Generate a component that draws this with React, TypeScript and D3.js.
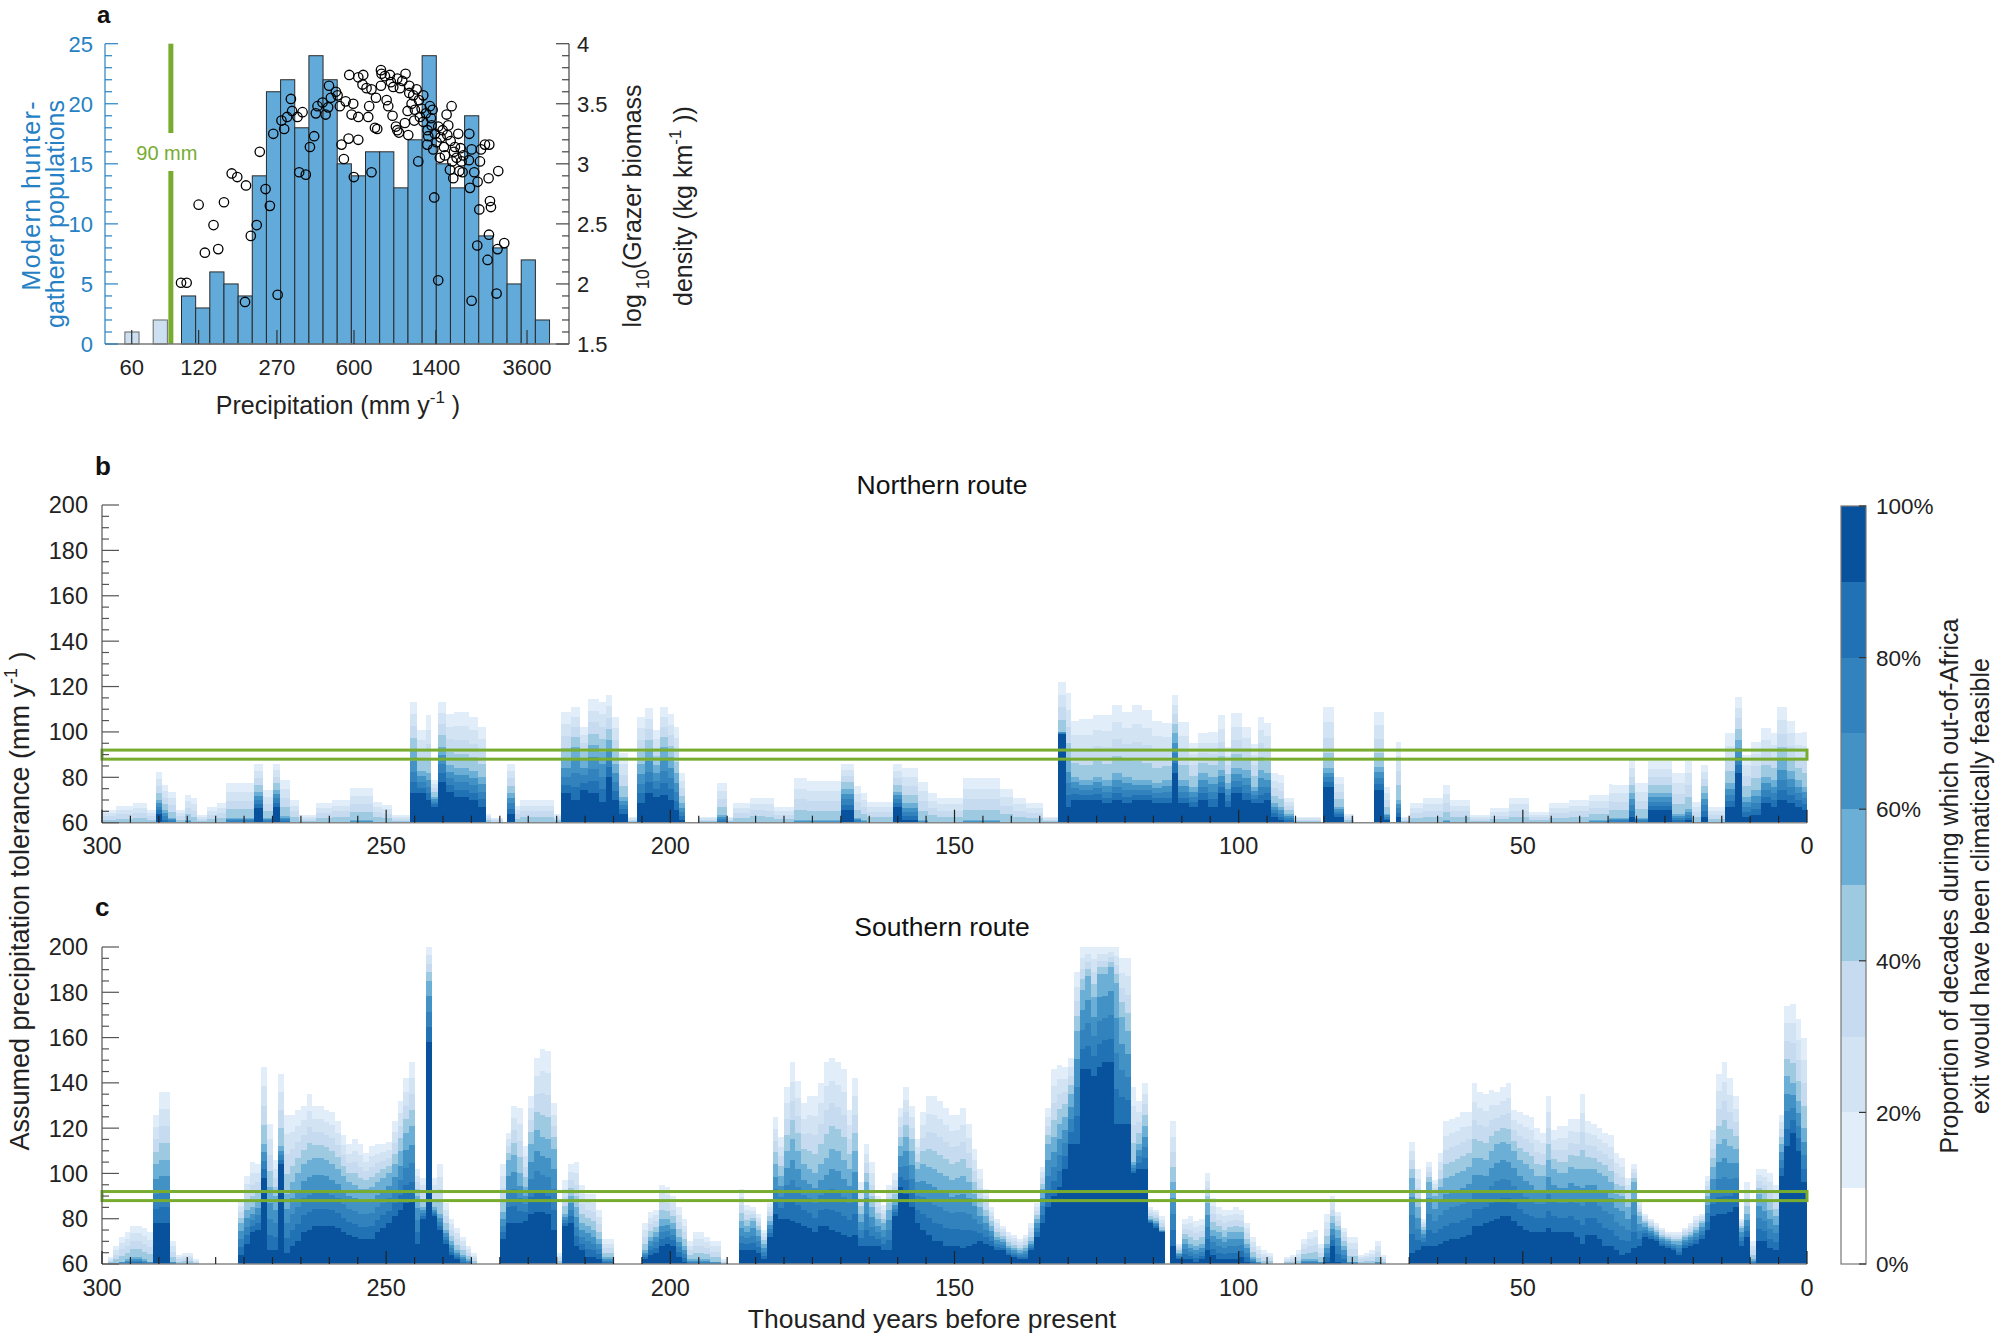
import React from 'react';
import * as d3 from 'd3';

const FONT = '"Liberation Sans", Arial, Helvetica, sans-serif';
const BLUE_TXT = '#2681c4';
const GREEN = '#77ac30';

// ---------- panel a: histogram + grazer biomass ----------
const histCounts = [1, 0, 2, 0, 4, 3, 6, 5, 4, 14, 21, 22, 18, 24, 22, 15, 14, 16, 16, 13, 17, 24, 15, 13, 19, 9, 8, 5, 7, 2];
const binStart = 55.9; // mm, lower edge of first log bin
const binRatio = 1.1579; // log-spaced bins
const thresholdMm = 90;

// [precipitation mm/yr, log10 grazer biomass]
const grazer: [number, number][] = [
  [100, 2.01], [106, 2.01], [120, 2.66], [128, 2.26], [140, 2.49], [147, 2.29], [156, 2.68], [169, 2.92],
  [179, 2.89], [196, 2.82], [194, 1.85], [206, 2.4], [219, 2.49], [226, 3.1], [240, 2.79], [251, 2.65],
  [260, 3.25], [272, 1.91], [283, 3.36], [291, 3.29], [300, 3.39], [312, 3.54], [316, 3.44], [334, 3.39],
  [340, 2.93], [352, 3.43], [364, 2.91], [380, 3.14], [397, 3.23], [404, 3.42], [411, 3.48], [433, 3.51],
  [447, 3.41], [459, 3.47], [463, 3.65], [472, 3.55], [497, 3.6], [506, 3.57], [518, 3.48], [527, 3.16],
  [540, 3.04], [550, 3.52], [567, 3.21], [571, 3.74], [585, 3.41], [595, 3.5], [599, 2.89], [627, 3.72],
  [627, 3.39], [627, 3.2], [660, 3.74], [655, 3.66], [683, 3.63], [702, 3.48], [695, 3.39], [719, 2.93],
  [719, 3.62], [745, 3.3], [763, 3.29], [753, 3.55], [793, 3.78], [793, 3.65], [798, 3.75], [826, 3.73],
  [841, 3.53], [855, 3.48], [870, 3.74], [879, 3.68], [894, 3.4], [901, 3.64], [926, 3.31], [939, 3.28],
  [955, 3.26], [939, 3.71], [965, 3.63], [989, 3.69], [1016, 3.34], [1023, 3.75], [1045, 3.44], [1052, 3.24],
  [1063, 3.65], [1063, 3.59], [1089, 3.5], [1108, 3.57], [1119, 3.36], [1127, 3.45], [1147, 3.62], [1167, 3.02],
  [1175, 3.53], [1187, 3.39], [1208, 3.46], [1229, 3.57], [1229, 3.35], [1263, 3.42], [1281, 3.16], [1285, 3.28],
  [1294, 3.23], [1317, 3.48], [1330, 3.38], [1340, 3.32], [1354, 3.45], [1363, 3.12], [1377, 2.72], [1387, 3.25],
  [1411, 3.18], [1435, 3.31], [1435, 2.03], [1460, 3.05], [1471, 3.22], [1502, 3.28], [1522, 3.14], [1538, 3.07],
  [1565, 3.41], [1576, 3.24], [1592, 3.32], [1620, 2.95], [1632, 3.19], [1648, 3.48], [1660, 3.02], [1677, 2.88],
  [1689, 3.1], [1706, 3.14], [1736, 3.05], [1766, 3.25], [1785, 2.94], [1809, 3.13], [1828, 3.02], [1847, 2.93],
  [1860, 3.07], [1972, 3.03], [1979, 3.25], [1993, 2.8], [2028, 3.12], [2028, 1.86], [2084, 2.93], [2158, 2.85],
  [2196, 2.62], [2211, 3.02], [2234, 3.12], [2328, 3.16], [2418, 2.88], [2435, 3.16], [2427, 2.41], [2452, 2.69],
  [2477, 2.64], [2150, 2.32], [2393, 2.2], [2626, 1.92], [2653, 2.29], [2672, 2.94], [2843, 2.34],
];

const xTicksA = [60, 120, 270, 600, 1400, 3600];
const yTicksLeftA = [0, 5, 10, 15, 20, 25];
const yTicksRightA = [1.5, 2, 2.5, 3, 3.5, 4];

// ---------- panels b, c ----------
const levelColors = ['#ffffff', '#e1edf8', '#d2e3f3', '#c6dbef', '#9ecae1', '#6baed6', '#4292c6', '#3182bd', '#2171b5', '#08519c'];
const cbTicks = [0, 20, 40, 60, 80, 100];
const xTicksBC = [300, 250, 200, 150, 100, 50, 0];
const yTicksBC = [60, 80, 100, 120, 140, 160, 180, 200];

// northern route: [from ka, to ka, top of >=10%, top of >=50%, top of >=90%] (mm/yr)
const northSegs: number[][] = [
  [300, 297.5, 65.6, 60, 60], [297.5, 294.5, 67.3, 60, 60], [294.5, 292, 68.5, 60, 60], [292, 290.5, 65.6, 60, 60],
  [290.5, 289.4, 82.5, 70, 64], [289.4, 288.3, 76.6, 65.6, 60], [288.3, 287, 73.7, 62, 60], [287, 285.4, 65.6, 60, 60],
  [285.4, 284.3, 72.2, 61, 60], [284.3, 283.2, 70.7, 60, 60], [283.2, 281.5, 63.4, 60, 60], [281.5, 279.8, 67, 60, 60],
  [279.8, 278.2, 68.5, 60, 60], [278.2, 273.3, 77.3, 62, 60], [273.3, 271.7, 86, 73.7, 66.3], [271.7, 270, 74.4, 62, 60],
  [270, 268.6, 86, 74.4, 67], [268.6, 266.9, 78.8, 63, 60], [266.9, 265.3, 70, 60, 60], [265.3, 262.4, 63.4, 60, 60],
  [262.4, 259.6, 68.5, 60, 60], [259.6, 256.3, 70, 60, 60], [256.3, 252.4, 75.4, 61, 60], [252.4, 250.7, 69.3, 60, 60],
  [250.7, 249, 67.8, 60, 60], [249, 245.8, 63.4, 60, 60],
  [245.8, 244.5, 113.3, 92, 73], [244.5, 243, 100.8, 83, 73], [243, 242.1, 107.5, 81.7, 70], [242.1, 240.8, 78.8, 71.5, 67],
  [240.8, 239.4, 113.3, 93.5, 78], [239.4, 238.1, 108, 85.4, 73.7], [238.1, 235.5, 109, 84, 71.5], [235.5, 233.8, 106.7, 83, 70],
  [233.8, 232.5, 102.3, 80.3, 67], [232.5, 231.6, 64, 60, 60], [231.6, 229.5, 62, 60, 60],
  [228.8, 227.3, 86, 73, 64], [227.3, 226.5, 67.3, 60, 60], [226.5, 220.4, 70, 60, 60], [220.4, 219.2, 64, 60, 60],
  [219.2, 217.5, 109, 87.6, 73], [217.5, 215.9, 111, 93.5, 70], [215.9, 214.4, 102.3, 87.6, 74.4], [214.4, 212.5, 114.4, 94.2, 73],
  [212.5, 211.4, 113.3, 91.3, 69.3], [211.4, 210.3, 116.3, 96.4, 80.3], [210.3, 209.1, 106.7, 86, 70], [209.1, 207.5, 90.6, 71.5, 64],
  [207.5, 205.8, 62.6, 60, 60],
  [205.8, 204.4, 106.7, 86, 68.5], [204.4, 203, 110.4, 92, 73], [203, 201.9, 100.8, 85.4, 71.5], [201.9, 200.4, 111, 93.5, 72.2],
  [200.4, 199.3, 108, 89, 70], [199.3, 198.4, 102.3, 81.7, 65.6], [198.4, 197.4, 81.7, 68.5, 61],
  [195.2, 191.8, 62.6, 60, 60], [191.8, 190.1, 77.3, 63.4, 60], [190.1, 189, 62.6, 60, 60], [189, 186, 68.5, 60, 60],
  [186, 183.3, 71, 60, 60], [183.3, 181.7, 70.7, 60, 60], [181.7, 178.3, 67, 60, 60], [178.3, 176, 79.5, 61, 60],
  [176, 169.9, 78.5, 61, 60], [169.9, 167.6, 86, 75, 65.6], [167.6, 166.5, 76, 62, 60], [166.5, 165.4, 73, 61, 60],
  [165.4, 160.9, 69.3, 60, 60], [160.9, 159.2, 86, 73.7, 67], [159.2, 156.4, 84, 68.5, 61], [156.4, 154.7, 78, 61, 60],
  [154.7, 153, 73, 60, 60], [153, 148.5, 70.7, 60, 60], [148.5, 142, 79.5, 61, 60], [142, 139.7, 75, 60, 60],
  [139.7, 137.4, 70.7, 60, 60], [137.4, 134.5, 68.5, 60, 60], [134.5, 131.8, 62.6, 60, 60],
  [131.8, 130.4, 121.8, 100, 99], [130.4, 129.5, 117, 87.6, 67], [129.5, 128.1, 105, 80.3, 70], [128.1, 125.7, 105.5, 78.8, 70],
  [125.7, 124, 107.5, 80.3, 70], [124, 122.2, 107.5, 78.8, 68.5], [122.2, 120.5, 111.9, 81.7, 70], [120.5, 118.8, 109, 80.3, 68.5],
  [118.8, 117, 111.9, 78.8, 70], [117, 115.3, 109.6, 78.8, 70], [115.3, 113.5, 105, 77.3, 68.5], [113.5, 111.8, 103.8, 78.8, 68.5],
  [111.8, 110.6, 116.3, 99.4, 81.7], [110.6, 108.8, 104.5, 78.8, 68.5], [108.8, 107.1, 95, 75.9, 67], [107.1, 105.4, 99.4, 81.7, 70],
  [105.4, 103.6, 100, 80.3, 67], [103.6, 102.4, 107.5, 83.2, 73], [102.4, 101.3, 93.5, 77.3, 67], [101.3, 99.5, 108.5, 84, 73],
  [99.5, 97.8, 102.3, 83.2, 70], [97.8, 96.6, 94.7, 75.9, 68.5], [96.6, 95.5, 106.7, 83.2, 68.5], [95.5, 94.3, 103.8, 81.7, 70],
  [94.3, 93.1, 81.7, 68.5, 62.6], [93.1, 92, 81, 67, 61], [92, 90.2, 70.7, 64, 60], [90.2, 85.5, 62.6, 60, 60],
  [85.2, 83.2, 111, 84, 75.9], [83.2, 81.5, 80.3, 67, 62.6], [81.5, 79.7, 64, 60, 60],
  [76.2, 74.5, 109, 84.7, 74.4], [74.5, 73.3, 75.9, 64, 61], [72.4, 71.5, 95.7, 70, 62.6], [71.5, 69.8, 62.6, 60, 60],
  [69.8, 67.5, 68.5, 60, 60], [67.5, 64, 70.7, 60, 60], [64, 62.8, 76.6, 61, 60], [62.8, 59.3, 70, 60, 60],
  [59.3, 55.8, 63.4, 60, 60], [55.8, 52.4, 66.3, 60, 60], [52.4, 48.9, 70.7, 60, 60], [48.9, 45.4, 64.8, 60, 60],
  [45.4, 41.9, 68.5, 60, 60], [41.9, 38.4, 70, 60, 60], [38.4, 34.9, 72.2, 61, 60], [34.9, 34.3, 77, 62, 60],
  [34.3, 31.4, 76.6, 62, 60], [31.4, 30.2, 87.6, 73, 62.6], [30.2, 27.9, 77.3, 62, 60], [27.9, 23.8, 87, 73, 65.6],
  [23.8, 21.5, 81.7, 64, 60], [21.5, 20.3, 87, 66, 61], [20.3, 18.6, 69.3, 60, 60], [18.6, 17.4, 85.4, 73, 62.6],
  [17.4, 14.5, 67, 60, 60], [14.5, 12.7, 99.4, 77.3, 67], [12.7, 11.4, 115.5, 96.4, 81.7], [11.4, 9.8, 89.8, 71.5, 62.6],
  [9.8, 8.1, 95.7, 74.4, 63.4], [8.1, 6.4, 101.6, 80.3, 68.5], [6.4, 5.2, 99.4, 78.8, 67], [5.2, 3.5, 111, 87.6, 70],
  [3.5, 2.1, 105, 83, 68.5], [2.1, 0.9, 99.4, 78.8, 67], [0.9, 0, 100, 75.9, 65.6],
];

// southern route: 1-kyr columns [start ka, top >=10%, top >=50%, top >=90%]
const southCols: number[][] = [
  [299, 63, 60, 60], [298, 68, 60, 60], [297, 72, 61, 60], [296, 74, 62, 60], [295, 77, 63, 60], [294, 77, 63, 60],
  [293, 76, 62, 60], [292, 74, 61, 60], [291, 126, 104, 78], [290, 136, 106, 78], [289, 136, 106, 78], [288, 70, 61, 60],
  [287, 64, 60, 60], [286, 65, 60, 60], [285, 65, 60, 60], [284, 62, 60, 60],
  [276, 88, 78, 64], [275, 99, 84, 69], [274, 105, 85, 74], [273, 104, 88, 75], [272, 147, 113, 98], [271, 122, 94, 66],
  [270, 106, 90, 66], [269, 144, 112, 104], [268, 126, 91, 65], [267, 126, 96, 68], [266, 128, 100, 70], [265, 130, 104, 74],
  [264, 135, 106, 75], [263, 130, 107, 77], [262, 130, 107, 77], [261, 128, 106, 77], [260, 127, 104, 77], [259, 123, 102, 76],
  [258, 117, 99, 74], [257, 113, 96, 73], [256, 115, 95, 72], [255, 113, 93, 71], [254, 109, 93, 71], [253, 112, 94, 71],
  [252, 113, 96, 74], [251, 113, 98, 76], [250, 114, 100, 78], [249, 123, 104, 81], [248, 132, 110, 84], [247, 142, 118, 87],
  [246, 149, 121, 88], [245, 102, 90, 69], [244, 98, 85, 80], [243, 200, 185, 158], [242, 98, 85, 81], [241, 104, 82, 75],
  [240, 87, 75, 69], [239, 80, 70, 64], [238, 76, 66, 62], [237, 72, 64, 60], [236, 68, 62, 60], [235, 65, 60, 60],
  [230, 104, 83, 71], [229, 118, 106, 78], [228, 130, 108, 78], [227, 129, 100, 78], [226, 112, 94, 79], [225, 134, 113, 82],
  [224, 151, 119, 83], [223, 155, 116, 83], [222, 154, 115, 82], [221, 131, 111, 75], [220, 65, 60, 60], [219, 97, 82, 77],
  [218, 104, 90, 78], [217, 105, 85, 68], [216, 95, 78, 66], [215, 91, 77, 63], [214, 91, 75, 63], [213, 84, 71, 62],
  [212, 71, 63, 60], [211, 71, 63, 60],
  [205, 78, 66, 62], [204, 83, 72, 64], [203, 84, 74, 65], [202, 95, 80, 68], [201, 94, 80, 69], [200, 90, 78, 68],
  [199, 85, 72, 63], [198, 80, 68, 61], [197, 70, 62, 60], [196, 74, 62, 60], [195, 74, 62, 60], [194, 72, 62, 60],
  [193, 70, 61, 60], [192, 70, 61, 60], [191, 62, 60, 60],
  [188, 93, 79, 66], [187, 86, 77, 66], [186, 85, 79, 66], [185, 82, 75, 65], [184, 75, 69, 62], [183, 87, 79, 72],
  [182, 125, 104, 82], [181, 116, 99, 80], [180, 138, 110, 80], [179, 149, 115, 79], [178, 141, 110, 78], [177, 131, 104, 77],
  [176, 134, 102, 76], [175, 134, 100, 74], [174, 140, 104, 77], [173, 149, 107, 77], [172, 151, 111, 75], [171, 149, 110, 74],
  [170, 146, 106, 73], [169, 128, 102, 72], [168, 142, 110, 73], [167, 96, 82, 68], [166, 113, 96, 68], [165, 105, 85, 68],
  [164, 90, 80, 68], [163, 86, 78, 66], [162, 95, 84, 66], [161, 100, 88, 81], [160, 129, 112, 94], [159, 138, 116, 91],
  [158, 130, 110, 85], [157, 115, 102, 78], [156, 127, 104, 75], [155, 134, 103, 73], [154, 134, 102, 70], [153, 132, 100, 70],
  [152, 129, 99, 68], [151, 126, 97, 68], [150, 126, 98, 68], [149, 129, 99, 67], [148, 122, 96, 68], [147, 111, 91, 69],
  [146, 102, 85, 70], [145, 93, 81, 69], [144, 85, 77, 68], [143, 80, 72, 66], [142, 77, 71, 66], [141, 74, 68, 64],
  [140, 73, 67, 63], [139, 71, 66, 62], [138, 73, 67, 62], [137, 78, 70, 66], [136, 87, 80, 72], [135, 103, 93, 78],
  [134, 129, 113, 85], [133, 146, 116, 90], [132, 148, 122, 94], [131, 147, 125, 102], [130, 151, 135, 113], [129, 189, 163, 113],
  [128, 200, 181, 146], [127, 200, 187, 146], [126, 200, 178, 143], [125, 200, 188, 147], [124, 200, 188, 149], [123, 200, 191, 149],
  [122, 200, 184, 122], [121, 195, 169, 122], [120, 195, 163, 122], [119, 138, 105, 100], [118, 132, 113, 102], [117, 140, 121, 102],
  [116, 85, 80, 78], [115, 84, 79, 76], [114, 81, 75, 74],
  [112, 123, 96, 68], [111, 69, 65, 62], [110, 80, 71, 62], [109, 81, 69, 62], [108, 79, 68, 61], [107, 80, 69, 62],
  [106, 100, 87, 66], [105, 89, 75, 64], [104, 85, 74, 62], [103, 84, 72, 62], [102, 84, 74, 62], [101, 85, 74, 62],
  [100, 84, 74, 63], [99, 78, 69, 61], [98, 72, 63, 60], [97, 68, 61, 60], [96, 66, 60, 60], [95, 65, 60, 60],
  [92, 63, 60, 60], [91, 64, 60, 60], [90, 66, 60, 60], [89, 71, 62, 60], [88, 74, 62, 60], [87, 75, 62, 60],
  [86, 69, 61, 60], [85, 82, 69, 61], [84, 90, 78, 68], [83, 83, 75, 61], [82, 76, 68, 60], [81, 72, 61, 60],
  [80, 72, 61, 60], [79, 64, 60, 60], [78, 65, 60, 60], [77, 66, 60, 60], [76, 70, 61, 60], [75, 64, 60, 60],
  [70, 114, 98, 65], [69, 102, 85, 66], [68, 80, 75, 68], [67, 105, 96, 68], [66, 97, 90, 68], [65, 109, 94, 69],
  [64, 123, 98, 70], [63, 124, 99, 71], [62, 125, 100, 71], [61, 127, 101, 72], [60, 127, 103, 73], [59, 140, 107, 77],
  [58, 136, 107, 77], [57, 135, 106, 78], [56, 137, 110, 79], [55, 136, 113, 80], [54, 138, 114, 81], [53, 140, 113, 81],
  [52, 128, 110, 79], [51, 127, 106, 77], [50, 126, 104, 75], [49, 125, 102, 74], [48, 120, 99, 74], [47, 118, 99, 74],
  [46, 134, 106, 76], [45, 119, 102, 74], [44, 121, 100, 74], [43, 121, 100, 74], [42, 124, 103, 74], [41, 124, 102, 72],
  [40, 135, 102, 69], [39, 123, 102, 73], [38, 122, 102, 73], [37, 120, 100, 71], [36, 118, 99, 68], [35, 117, 96, 68],
  [34, 109, 91, 66], [33, 107, 90, 64], [32, 98, 85, 65], [31, 104, 96, 67], [30, 88, 81, 68], [29, 82, 78, 72],
  [28, 80, 76, 71], [27, 78, 74, 70], [26, 76, 72, 68], [25, 74, 71, 67], [24, 74, 70, 66], [23, 74, 70, 64],
  [22, 76, 72, 67], [21, 78, 73, 68], [20, 81, 75, 69], [19, 82, 78, 71], [18, 99, 90, 75], [17, 119, 103, 81],
  [16, 144, 113, 82], [15, 149, 115, 82], [14, 142, 112, 83], [13, 134, 111, 85], [12, 80, 76, 68], [11, 96, 82, 72],
  [10, 70, 62, 60], [9, 102, 91, 70], [8, 102, 88, 70], [7, 100, 84, 67], [6, 95, 81, 66], [5, 126, 113, 99],
  [4, 174, 143, 112], [3, 175, 140, 118], [2, 168, 132, 110], [1, 160, 120, 96],
];

const southSegs = southCols.map(([k, a, b, c]) => [k, k - 1, a, b, c]);

// ---------- layout ----------
const XL = 102;
const XR = 1807;

function levelTops(t10: number, t50: number, t90: number) {
  const h: number[] = [];
  for (let k = 1; k <= 9; k++) {
    h[k] = k <= 5 ? t10 + ((t50 - t10) * (k - 1)) / 4 : t50 + ((t90 - t50) * (k - 5)) / 4;
  }
  return h;
}

function HeatPanel({ segs, top, bottom, title, titleY, letter, letterY, tickLabelY }: any) {
  const x = d3.scaleLinear().domain([300, 0]).range([XL, XR]);
  const y = d3.scaleLinear().domain([60, 200]).range([bottom, top]).clamp(true);
  const cells: React.ReactNode[] = [];
  segs.forEach((s: number[], i: number) => {
    const [a, b, t10, t50, t90] = s;
    const h = levelTops(t10, t50, t90);
    for (let k = 1; k <= 9; k++) {
      const upper = h[k];
      const lower = k < 9 ? h[k + 1] : 60;
      if (upper - lower <= 0.01) continue;
      cells.push(
        <rect key={`${i}-${k}`} x={x(a)} width={x(b) - x(a)} y={y(upper)} height={y(lower) - y(upper)} fill={levelColors[k]} />
      );
    }
  });
  const minorX = d3.range(0, 301, 5);
  const minorY = d3.range(60, 201, 5);
  return (
    <g>
      <g shapeRendering="crispEdges">{cells}</g>
      {/* tolerance band */}
      <rect x={XL} width={XR - XL} y={y(92)} height={y(88) - y(92)} fill="none" stroke={GREEN} strokeWidth={3} />
      {/* axes */}
      <line x1={XL} x2={XL} y1={top} y2={bottom} stroke="#555" strokeWidth={1.2} />
      <line x1={XL} x2={XR} y1={bottom} y2={bottom} stroke="#888" strokeWidth={1.5} />
      {minorY.map((v) => (
        <line key={'yt' + v} x1={XL} x2={XL + (v % 20 === 0 ? 17 : 7)} y1={y(v)} y2={y(v)} stroke="#555" strokeWidth={1.2} />
      ))}
      {minorX.map((v) => (
        <line key={'xt' + v} x1={x(v)} x2={x(v)} y1={bottom} y2={bottom - (v % 50 === 0 ? 13 : 7)} stroke="#222" strokeWidth={1.2} />
      ))}
      {yTicksBC.map((v) => (
        <text key={'yl' + v} x={XL - 14} y={y(v)} dy="0.36em" textAnchor="end" fontSize={23.5} fill="#222">{v}</text>
      ))}
      {xTicksBC.map((v) => (
        <text key={'xl' + v} x={x(v)} y={tickLabelY} textAnchor="middle" fontSize={23.5} fill="#222">{v}</text>
      ))}
      <text x={942} y={titleY} textAnchor="middle" fontSize={26.5} fill="#111">{title}</text>
      <text x={95} y={letterY} fontSize={26} fontWeight="bold" fill="#111">{letter}</text>
    </g>
  );
}

function PanelA() {
  const top = 43.7;
  const bottom = 344;
  const left = 105;
  const right = 569;
  const x = d3.scaleLog().domain([45.5, 5560]).range([left, right]);
  const yL = d3.scaleLinear().domain([0, 25]).range([bottom, top]);
  const yR = d3.scaleLinear().domain([1.5, 4]).range([bottom, top]);
  const xg = x(thresholdMm);
  const minorL = d3.range(0, 26, 1);
  return (
    <g>
      {histCounts.map((c, i) => {
        if (c === 0) return null;
        const lo = binStart * Math.pow(binRatio, i);
        const hi = lo * binRatio;
        const light = hi <= thresholdMm;
        return (
          <rect key={'b' + i} x={x(lo)} width={x(hi) - x(lo)} y={yL(c)} height={yL(0) - yL(c)}
            fill={light ? '#cde0f1' : '#62aada'} stroke={light ? '#666' : '#2a2a2a'} strokeWidth={1} />
        );
      })}
      {/* threshold line */}
      <line x1={xg} x2={xg} y1={top} y2={133} stroke={GREEN} strokeWidth={5} />
      <line x1={xg} x2={xg} y1={171} y2={bottom} stroke={GREEN} strokeWidth={5} />
      <text x={xg - 4} y={160} textAnchor="middle" fontSize={20} fill={GREEN}>90 mm</text>
      {grazer.map(([p, b], i) => (
        <circle key={'g' + i} cx={x(p)} cy={yR(b)} r={4.7} fill="none" stroke="#000" strokeWidth={1.3} />
      ))}
      {/* axes */}
      <line x1={left} x2={left} y1={top} y2={bottom} stroke={BLUE_TXT} strokeWidth={1.2} />
      <line x1={right} x2={right} y1={top} y2={bottom} stroke="#444" strokeWidth={1.2} />
      <line x1={left} x2={right} y1={bottom} y2={bottom} stroke="#777" strokeWidth={1.5} />
      {minorL.map((v) => (
        <line key={'lt' + v} x1={left} x2={left + (v % 5 === 0 ? 13 : 7)} y1={yL(v)} y2={yL(v)} stroke={BLUE_TXT} strokeWidth={1.2} />
      ))}
      {minorL.map((v) => (
        <line key={'rt' + v} x1={right} x2={right - (v % 5 === 0 ? 13 : 7)} y1={yL(v)} y2={yL(v)} stroke="#444" strokeWidth={1.2} />
      ))}
      {xTicksA.map((v) => (
        <line key={'bt' + v} x1={x(v)} x2={x(v)} y1={bottom} y2={bottom - 14} stroke="#333" strokeWidth={1.2} />
      ))}
      {yTicksLeftA.map((v) => (
        <text key={'ll' + v} x={left - 12} y={yL(v)} dy="0.36em" textAnchor="end" fontSize={22} fill={BLUE_TXT}>{v}</text>
      ))}
      {yTicksRightA.map((v) => (
        <text key={'rl' + v} x={right + 8} y={yR(v)} dy="0.36em" textAnchor="start" fontSize={22} fill="#222">{v}</text>
      ))}
      {xTicksA.map((v) => (
        <text key={'bl' + v} x={x(v)} y={375} textAnchor="middle" fontSize={22} fill="#222">{v}</text>
      ))}
      <text x={338} y={414} textAnchor="middle" fontSize={25} fill="#222">
        Precipitation (mm y<tspan dy={-11} fontSize={17}>-1</tspan><tspan dy={11}> )</tspan>
      </text>
      <text transform="translate(40,100) rotate(-90)" textAnchor="end" fontSize={25} letterSpacing={1.4} fill={BLUE_TXT}>Modern hunter-</text>
      <text transform="translate(64,100) rotate(-90)" textAnchor="end" fontSize={25} fill={BLUE_TXT}>gatherer populations</text>
      <text transform="translate(641,206) rotate(-90)" textAnchor="middle" fontSize={25} fill="#222">
        log<tspan dy={8} fontSize={18}> 10</tspan><tspan dy={-8}>(Grazer biomass</tspan>
      </text>
      <text transform="translate(692,206) rotate(-90)" textAnchor="middle" fontSize={25} fill="#222">
        density (kg km<tspan dy={-11} fontSize={17}>-1</tspan><tspan dy={11}> ))</tspan>
      </text>
      <text x={97} y={23} fontSize={24} fontWeight="bold" fill="#111">a</text>
    </g>
  );
}

function Colorbar() {
  const x0 = 1841;
  const w = 25;
  const y = d3.scaleLinear().domain([0, 100]).range([1264, 506]);
  return (
    <g>
      {levelColors.map((c, i) => (
        <rect key={'cb' + i} x={x0} width={w} y={y((i + 1) * 10)} height={y(i * 10) - y((i + 1) * 10)} fill={c} shapeRendering="crispEdges" />
      ))}
      <rect x={x0} width={w} y={y(100)} height={y(0) - y(100)} fill="none" stroke="#777" strokeWidth={1.2} />
      {cbTicks.map((v) => (
        <g key={'ct' + v}>
          <line x1={x0 + w} x2={x0 + w - 7} y1={y(v)} y2={y(v)} stroke="#333" strokeWidth={1.2} />
          <text x={1876} y={y(v)} dy="0.36em" fontSize={22.5} fill="#222">{v}%</text>
        </g>
      ))}
      <text transform="translate(1958,886) rotate(-90)" textAnchor="middle" fontSize={25} fill="#222">
        Proportion of decades during which out-of-Africa
      </text>
      <text transform="translate(1989,886) rotate(-90)" textAnchor="middle" fontSize={25} fill="#222">
        exit would have been climatically feasible
      </text>
    </g>
  );
}

export default function App() {
  return (
    <svg width={1998} height={1335} style={{ position: 'absolute', left: 0, top: 0, fontFamily: FONT }}>
      <rect width={1998} height={1335} fill="#fff" />
      <PanelA />
      <HeatPanel segs={northSegs} top={505} bottom={822.7} title="Northern route" titleY={494} letter="b" letterY={475} tickLabelY={854} />
      <HeatPanel segs={southSegs} top={947} bottom={1264} title="Southern route" titleY={936} letter="c" letterY={916} tickLabelY={1296} />
      <Colorbar />
      <text transform="translate(29,901) rotate(-90)" textAnchor="middle" fontSize={27} fill="#222">
        Assumed precipitation tolerance (mm y<tspan dy={-12} fontSize={18}>-1</tspan><tspan dy={12}> )</tspan>
      </text>
      <text x={932} y={1328} textAnchor="middle" fontSize={26.5} fill="#222">Thousand years before present</text>
    </svg>
  );
}
